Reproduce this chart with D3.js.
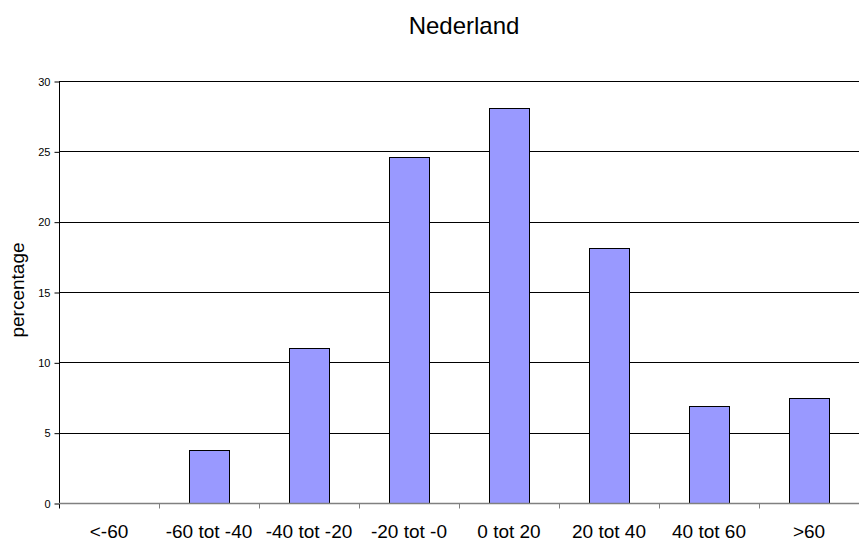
<!DOCTYPE html>
<html>
<head>
<meta charset="utf-8">
<script src="https://cdn.jsdelivr.net/npm/d3@7"></script>
<style>
  html, body { margin: 0; padding: 0; background: #fff; }
  svg { display: block; font-family: Arial, "Liberation Sans", sans-serif; }
</style>
</head>
<body>
<svg id="chart" width="861" height="542"></svg>
<script>
// Distribution of changes, Netherlands (percent per class)
const categories = ["<-60", "-60 tot -40", "-40 tot -20", "-20 tot -0", "0 tot 20", "20 tot 40", "40 tot 60", ">60"];
const percentages = [0, 3.8, 11, 24.6, 28.1, 18.1, 6.9, 7.5];
const yTicks = [0, 5, 10, 15, 20, 25, 30];
const chartTitle = "Nederland";
const yLabel = "percentage";

const svg = d3.select("#chart");
const margin = { left: 59, right: 2, top: 81, bottom: 39 };
const W = 861, H = 542;

const x = d3.scaleBand()
  .domain(categories)
  .range([margin.left, W - margin.right])
  .paddingInner(0.6)
  .paddingOuter(0.3);

const y = d3.scaleLinear()
  .domain([0, 30])
  .range([H - margin.bottom, margin.top]);

// horizontal gridlines
svg.append("g")
  .selectAll("line")
  .data(yTicks.filter(d => d > 0))
  .join("line")
  .attr("x1", margin.left)
  .attr("x2", W - margin.right)
  .attr("y1", d => Math.round(y(d)) + 0.5)
  .attr("y2", d => Math.round(y(d)) + 0.5)
  .attr("stroke", "#000")
  .attr("stroke-width", 1);

// bars
svg.append("g")
  .selectAll("rect")
  .data(categories.map((c, i) => ({ c, v: percentages[i] })).filter(d => d.v > 0))
  .join("rect")
  .attr("x", d => Math.round(x(d.c)) + 0.5)
  .attr("y", d => Math.round(y(d.v)) + 0.5)
  .attr("width", x.bandwidth())
  .attr("height", d => Math.round(y(0)) - Math.round(y(d.v)))
  .attr("fill", "#9999FF")
  .attr("stroke", "#000")
  .attr("stroke-width", 1);

// y axis
const yAxis = d3.axisLeft(y)
  .tickValues(yTicks)
  .tickSize(5)
  .tickPadding(4)
  .tickFormat(d3.format("d"));
const gy = svg.append("g")
  .attr("transform", `translate(${margin.left + 0.5},0.5)`)
  .call(yAxis);
gy.select(".domain").attr("stroke", "#000").attr("d", `M0,${y(30)}V${y(0) + 5}`);
gy.selectAll(".tick line").attr("stroke", "#000");
gy.selectAll(".tick text")
  .attr("font-size", 11)
  .attr("font-family", "Arial, 'Liberation Sans', sans-serif")
  .attr("fill", "#000");

// x axis: ticks sit at the category boundaries
const xAxisY = Math.round(y(0)) + 0.5;
svg.append("line")
  .attr("x1", margin.left)
  .attr("x2", W - margin.right)
  .attr("y1", xAxisY)
  .attr("y2", xAxisY)
  .attr("stroke", "#808080")
  .attr("stroke-width", 1.5);

const step = x.step();
const boundaries = d3.range(1, categories.length).map(i => margin.left + i * step);
svg.append("g")
  .selectAll("line")
  .data(boundaries)
  .join("line")
  .attr("x1", d => Math.round(d) + 0.5)
  .attr("x2", d => Math.round(d) + 0.5)
  .attr("y1", xAxisY)
  .attr("y2", xAxisY + 5)
  .attr("stroke", "#808080");

svg.append("g")
  .selectAll("text")
  .data(categories)
  .join("text")
  .attr("x", d => x(d) + x.bandwidth() / 2)
  .attr("y", 538)
  .attr("text-anchor", "middle")
  .attr("font-size", 19)
  .attr("fill", "#000")
  .text(d => d);

// title
svg.append("text")
  .attr("x", 464)
  .attr("y", 34)
  .attr("text-anchor", "middle")
  .attr("font-size", 24)
  .attr("fill", "#000")
  .text(chartTitle);

// y-axis label
svg.append("text")
  .attr("transform", `translate(24,290) rotate(-90)`)
  .attr("text-anchor", "middle")
  .attr("font-size", 19)
  .attr("fill", "#000")
  .text(yLabel);
</script>
</body>
</html>
